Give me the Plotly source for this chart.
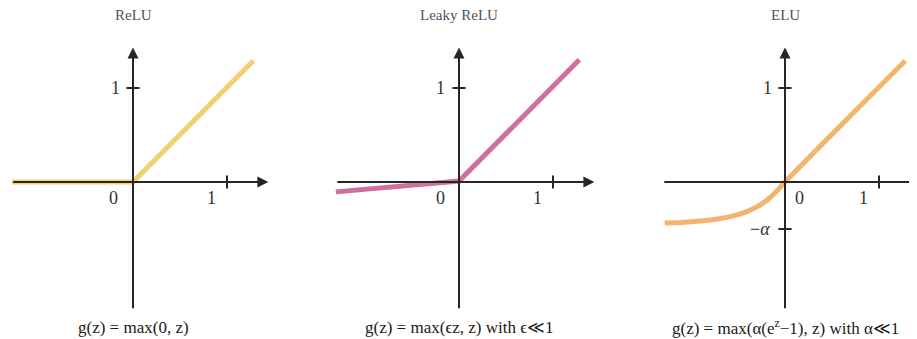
import plotly.graph_objects as go

# Values
TITLES = ["ReLU", "Leaky ReLU", "ELU"]
FORMULAS = [
    "g(z) = max(0, z)",
    "g(z) = max(ϵz, z) with ϵ≪1",
    "g(z) = max(α(e<sup>z</sup>−1), z) with α≪1",
]
COLORS = ["#F3C65B", "#C9578D", "#F3A655"]

relu_z = [-1.29, 0.0, 1.28]
relu_g = [0.0, 0.0, 1.29]

leaky_z = [-1.31, 0.0, 1.28]
leaky_g = [-0.105, 0.01, 1.30]

elu_z = [-1.28, -1.1, -0.9, -0.7, -0.55, -0.42, -0.3, -0.2, -0.1, 0.0, 1.28]
elu_g = [-0.435, -0.43, -0.415, -0.39, -0.36, -0.32, -0.265, -0.2, -0.11, 0.0, 1.29]

# tick labels per panel: (label, z, g)
TICK_LABELS = [
    [("0", -0.21, -0.17), ("1", 0.84, -0.17), ("1", -0.19, 1.0)],
    [("0", -0.20, -0.17), ("1", 0.84, -0.17), ("1", -0.20, 1.0)],
    [("0", 0.15, -0.17), ("1", 0.84, -0.17), ("1", -0.19, 1.0), ("−<i>α</i>", -0.27, -0.5)],
]
Y_TICKS = [[1.0], [1.0], [1.0, -0.5]]
AXIS_LEFT = [-1.29, -1.31, -1.30]

W, H = 917, 339
SHIFT = 8  # page body margin; the figure starts 8px in from the window corner
UNIT = 94
ORIGIN_Y = 182 - SHIFT
panels = [(0, 300, 133), (300, 610, 459), (610, 917, 785)]

fig = go.Figure()
series = [(relu_z, relu_g), (leaky_z, leaky_g), (elu_z, elu_g)]

AXIS_COL = "#262626"
layout = dict(
    width=W, height=H,
    margin=dict(l=0, r=0, t=0, b=0, pad=0),
    plot_bgcolor="white", paper_bgcolor="white",
    showlegend=False,
    font=dict(family="Liberation Serif", color="#222"),
)
annotations = []
shapes = []

for i, (p0, p1, ox) in enumerate(panels):
    sfx = "" if i == 0 else str(i + 1)
    xa, ya = "x" + sfx, "y" + sfx
    ox -= SHIFT
    if i > 0:
        p0 -= SHIFT
    p1 = min(p1 - SHIFT, W) if i < 2 else W
    layout["xaxis" + sfx] = dict(
        domain=[p0 / W, p1 / W],
        range=[(p0 - ox) / UNIT, (p1 - ox) / UNIT],
        visible=False, fixedrange=True, anchor=ya,
    )
    layout["yaxis" + sfx] = dict(
        domain=[0, 1],
        range=[(ORIGIN_Y - H) / UNIT, ORIGIN_Y / UNIT],
        visible=False, fixedrange=True, anchor=xa,
    )

    # axes with arrow heads
    annotations.append(dict(
        x=1.44, y=0, ax=AXIS_LEFT[i], ay=0, xref=xa, yref=ya,
        axref=xa, ayref=ya, text="", showarrow=True, arrowhead=2,
        arrowsize=1.1, arrowwidth=2, arrowcolor=AXIS_COL,
    ))
    annotations.append(dict(
        x=0, y=1.43, ax=0, ay=-1.36, xref=xa, yref=ya,
        axref=xa, ayref=ya, text="", showarrow=True, arrowhead=2,
        arrowsize=1.1, arrowwidth=2, arrowcolor=AXIS_COL,
    ))

    # tick marks
    shapes.append(dict(type="line", xref=xa, yref=ya, x0=1, x1=1, y0=-0.07, y1=0.07,
                       line=dict(color=AXIS_COL, width=2)))
    for yt in Y_TICKS[i]:
        shapes.append(dict(type="line", xref=xa, yref=ya, x0=-0.07, x1=0.07, y0=yt, y1=yt,
                           line=dict(color=AXIS_COL, width=2)))

    for lab, zx, gy in TICK_LABELS[i]:
        annotations.append(dict(
            x=zx, y=gy, xref=xa, yref=ya, text=lab, showarrow=False,
            font=dict(size=18, color="#333"),
        ))

    # title and formula
    annotations.append(dict(
        x=0, y=(ORIGIN_Y - (15 - SHIFT)) / UNIT, xref=xa, yref=ya, text=TITLES[i],
        showarrow=False, font=dict(size=15, color="#4B5468"),
    ))
    annotations.append(dict(
        x=0, y=(ORIGIN_Y - (327 - SHIFT)) / UNIT, xref=xa, yref=ya, text=FORMULAS[i],
        showarrow=False, font=dict(size=17, color="#1a1a1a"),
    ))

    z, g = series[i]
    fig.add_trace(go.Scatter(
        x=z, y=g, mode="lines", xaxis=xa, yaxis=ya,
        line=dict(color=COLORS[i], width=5, shape="spline" if i == 2 else "linear",
                  smoothing=0.8),
        opacity=0.85, hoverinfo="skip",
    ))

layout["annotations"] = annotations
layout["shapes"] = shapes
fig.update_layout(**layout)

fig.write_html("out.html")
